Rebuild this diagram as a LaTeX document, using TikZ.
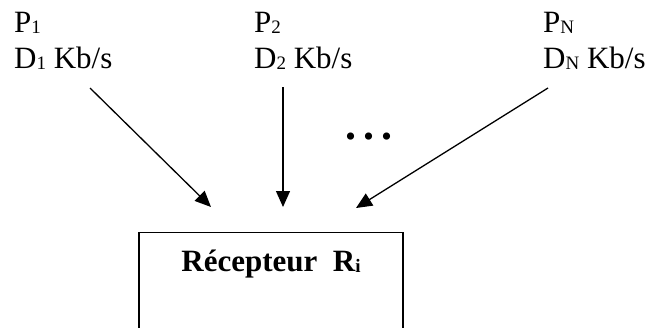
\documentclass[tikz,border=0pt]{standalone}
\usepackage{fontspec}
\setmainfont{Liberation Serif}
\usetikzlibrary{arrows.meta, positioning}

\newcommand{\idx}[1]{\raisebox{-1pt}{\fontsize{19}{19}\selectfont #1}}

\begin{document}
\begin{tikzpicture}[
  x=1pt, y=-1pt,
  source/.style={anchor=north west, inner sep=0pt, align=left,
    font=\fontsize{31}{36}\selectfont},
  recv/.style={rectangle, draw=black, line width=1.3pt, inner sep=0pt,
    minimum width=264pt, text height=39pt, text depth=110pt,
    font=\fontsize{31}{34}\selectfont\bfseries},
  arrow/.style={-{Triangle[length=16pt, width=14pt]}, line width=1.3pt}
]

\useasboundingbox (0,0) rectangle (647,327);
\clip (0,0) rectangle (647,327);

\node (p1) [source] at (14,12) {P\idx{1}\\D\idx{1} Kb/s};
\node (p2) [source] at (254,12) {P\idx{2}\\D\idx{2} Kb/s};
\node (pn) [source] at (543,12) {P\idx{N}\\D\idx{N} Kb/s};
\node (dots) [anchor=base, font=\fontsize{44}{44}\selectfont\bfseries] at (369,139) {.\hspace{7pt}.\hspace{7pt}.};
\node (recep) [recv, anchor=north] at (271,232) {R\'ecepteur\ \ R\idx{i}};

% points de depart et d'arrivee des flux
\coordinate (s1) at (90,88);
\coordinate (s2) at (283,87);
\coordinate (sn) at (548,88);
\coordinate (e1) at (211,207);
\coordinate (e2) at (283,207);
\coordinate (en) at (356,208);

\draw [arrow] (s1) -- (e1);
\draw [arrow] (s2) -- (e2);
\draw [arrow] (sn) -- (en);

\end{tikzpicture}
\end{document}
